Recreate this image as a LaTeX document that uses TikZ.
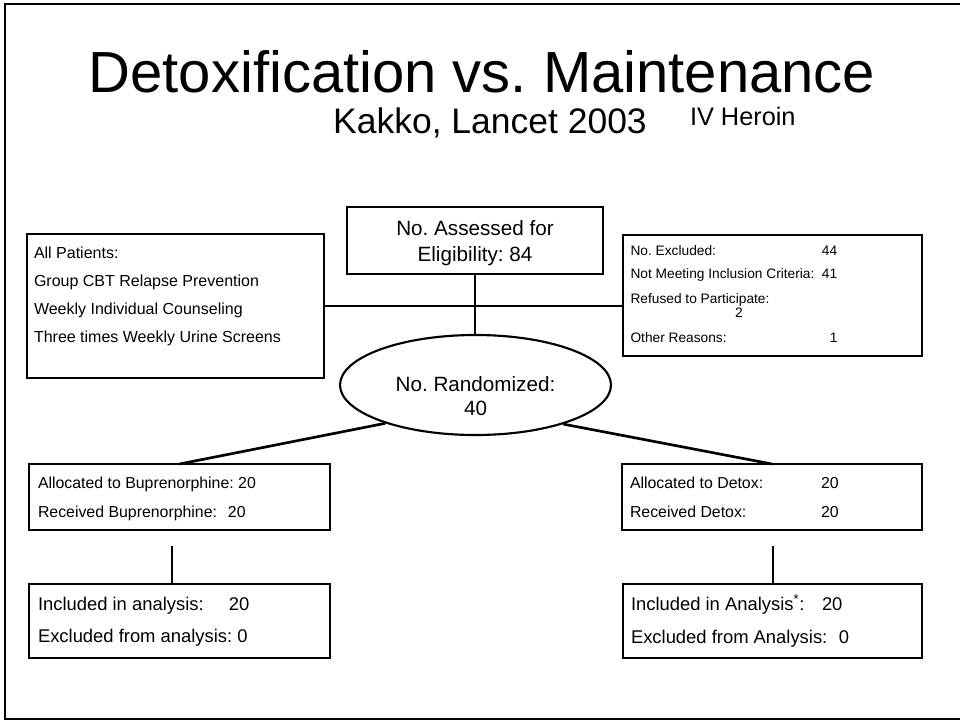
\documentclass[tikz,border=0pt]{standalone}
\usepackage{fontspec}
\setmainfont{Liberation Sans}
\usetikzlibrary{shapes.geometric}
\frenchspacing
\begin{document}
\begin{tikzpicture}[x=0.75pt,y=-0.75pt,
  box/.style={draw, line width=1.6pt, inner sep=0pt, outer sep=0pt, rectangle},
  conn/.style={line width=2pt},
  txt/.style={anchor=base west, inner sep=0pt, outer sep=0pt},
  ctxt/.style={anchor=base, inner sep=0pt, outer sep=0pt},
  ftitle/.style={font=\fontsize{43.5}{50}\selectfont},
  fsub/.style={font=\fontsize{26.6}{30}\selectfont},
  fsubs/.style={font=\fontsize{19}{22}\selectfont},
  fbig/.style={font=\fontsize{15.5}{18}\selectfont},
  fleft/.style={font=\fontsize{12}{14}\selectfont},
  fsmall/.style={font=\fontsize{10.3}{12}\selectfont},
  fmid/.style={font=\fontsize{11.9}{14}\selectfont},
  flow/.style={font=\fontsize{13.8}{16}\selectfont}]
\useasboundingbox (0,0) rectangle (960,721);
\clip (0,0) rectangle (960,721);
% frame
\draw[line width=1.5pt] (975,3.7) -- (4.5,3.7) -- (4.5,719.3) -- (975,719.3);
% titles
\node[ctxt, ftitle] (title) at (482,92) {Detoxification vs. Maintenance};
\node[ctxt, fsub] (sub) at (490,133) {Kakko, Lancet 2003};
\node[txt, fsubs] (heroin) at (690,125) {IV Heroin};
% boxes
\node[box, minimum width=222.75pt, minimum height=108pt] (LB) at (175.5,306) {};
\node[box, minimum width=192pt, minimum height=50.25pt] (TB) at (475,240.5) {};
\node[box, minimum width=224.25pt, minimum height=90.75pt] (RB) at (772.5,295.5) {};
\node[draw, ellipse, line width=1.6pt, inner sep=0pt, minimum width=203.25pt, minimum height=75pt] (EL) at (475.5,385) {};
\node[box, minimum width=225.75pt, minimum height=49.5pt] (BL1) at (179.5,497) {};
\node[box, minimum width=225pt, minimum height=49.5pt] (BR1) at (772,497) {};
\node[box, minimum width=225.75pt, minimum height=55.5pt] (BL2) at (179.5,621) {};
\node[box, minimum width=224.25pt, minimum height=55.5pt] (BR2) at (772.5,621) {};
% connectors
\draw[conn] (LB.east) -- (LB.east -| RB.west);
\draw[conn] (TB.south) -- (TB.south |- EL.north);
\draw[conn] (EL.203.5) -- (BL1.north);
\draw[conn] (EL.336.3) -- (BR1.north);
\coordinate (vl) at (172,546);
\coordinate (vr) at (773,546);
\draw[conn] (vl) -- (vl |- BL2.north);
\draw[conn] (vr) -- (vr |- BR2.north);
% left box text
\node[txt, fleft] (lb1) at (34,258) {All Patients:};
\node[txt, fleft] (lb2) at (34,286) {Group CBT Relapse Prevention};
\node[txt, fleft] (lb3) at (34,314) {Weekly Individual Counseling};
\node[txt, fleft] (lb4) at (34,342) {Three times Weekly Urine Screens};
% top box text
\node[ctxt, fbig] (tb1) at (475,235) {No. Assessed for};
\node[ctxt, fbig] (tb2) at (475,261) {Eligibility: 84};
% right box text
\node[txt, fsmall] (rb1) at (630.5,255) {\makebox[143.6pt][l]{No. Excluded:}44};
\node[txt, fsmall] (rb2) at (630.5,278) {\makebox[143.6pt][l]{Not Meeting Inclusion Criteria:}41};
\node[txt, fsmall] (rb3) at (630.5,303) {Refused to Participate:};
\node[txt, fsmall] (rb4) at (735,317) {2};
\node[txt, fsmall] (rb5) at (630.5,342) {\makebox[149.6pt][l]{Other Reasons:}1};
% ellipse text
\node[ctxt, fbig] (el1) at (475.5,391) {No. Randomized:};
\node[ctxt, fbig] (el2) at (475.5,415) {40};
% allocation boxes
\node[txt, fmid] (bl1a) at (38,488) {Allocated to Buprenorphine: 20};
\node[txt, fmid] (bl1b) at (38,517) {\makebox[142.5pt][l]{Received Buprenorphine:}20};
\node[txt, fmid] (br1a) at (630,488) {\makebox[143.25pt][l]{Allocated to Detox:}20};
\node[txt, fmid] (br1b) at (630,517) {\makebox[143.25pt][l]{Received Detox:}20};
% analysis boxes
\node[txt, flow] (bl2a) at (38,610) {\makebox[143.25pt][l]{Included in analysis:}20};
\node[txt, flow] (bl2b) at (38,642) {Excluded from analysis: 0};
\node[txt, flow] (br2a) at (631,610) {\makebox[143.25pt][l]{Included in Analysis\textsuperscript{*}:}20};
\node[txt, flow] (br2b) at (631,643) {\makebox[156pt][l]{Excluded from Analysis:}0};
\end{tikzpicture}
\end{document}
